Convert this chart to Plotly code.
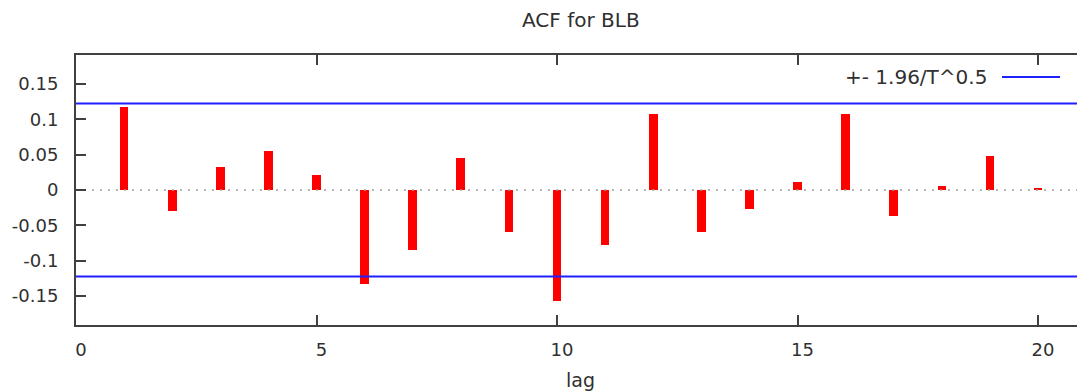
import plotly.graph_objects as go

# Sample autocorrelations of BLB by lag
lags = list(range(1, 21))
acf = [0.1175, -0.029, 0.032, 0.0546, 0.0215, -0.133, -0.0846, 0.0446, -0.0597, -0.157,
       -0.0772, 0.1076, -0.0597, -0.027, 0.0116, 0.1076, -0.0366, 0.005, 0.0475, 0.0027]
band = 0.1225  # 1.96 / sqrt(T)

x_ticks = [0, 5, 10, 15, 20]
y_ticks = [-0.15, -0.1, -0.05, 0, 0.05, 0.1, 0.15]
y_tick_text = ["-0.15", "-0.1", "-0.05", "0", "0.05", "0.1", "0.15"]

W, H = 1077, 391
ML, MR, MT, MB = 76, 0, 55, 66
XMAX = 20.81

FONT = "DejaVu Sans"
TXT = "#303030"
AX = "#404040"

fig = go.Figure()

# dotted zero line
fig.add_trace(go.Scatter(
    x=[0, XMAX], y=[0, 0], mode="lines",
    line=dict(color="#a0a0a0", width=1.5, dash="2px,6px"),
    showlegend=False, hoverinfo="skip",
))

fig.add_trace(go.Bar(
    x=lags, y=acf, width=0.18,
    marker=dict(color="#ff0000", line=dict(width=0)),
    showlegend=False, hoverinfo="x+y",
))

# confidence bands
for s in (1, -1):
    fig.add_trace(go.Scatter(
        x=[0, XMAX], y=[s * band, s * band], mode="lines",
        line=dict(color="#1f1fff", width=2), showlegend=False, hoverinfo="skip",
    ))

pw = W - ML - MR
ph = H - MT - MB


def px_x(p):
    return (p - ML) / pw


def px_y(p):
    return (H - MB - p) / ph


# legend key, drawn by hand so the sample sits to the right of the text
fig.add_annotation(
    x=px_x(989), y=px_y(77), xref="paper", yref="paper",
    text="+- 1.96/T^0.5", showarrow=False, xanchor="right", yanchor="middle",
    font=dict(family=FONT, size=20, color=TXT),
)
fig.add_shape(
    type="line", xref="paper", yref="paper",
    x0=px_x(1002), x1=px_x(1060), y0=px_y(77), y1=px_y(77),
    line=dict(color="#1f1fff", width=2),
)

fig.add_annotation(
    x=px_x(581), y=px_y(20), xref="paper", yref="paper",
    text="ACF for BLB", showarrow=False, xanchor="center", yanchor="middle",
    font=dict(family=FONT, size=20, color=TXT),
)
fig.add_annotation(
    x=px_x(580), y=px_y(380), xref="paper", yref="paper",
    text="lag", showarrow=False, xanchor="center", yanchor="middle",
    font=dict(family=FONT, size=19, color=TXT),
)

fig.update_layout(
    width=W, height=H,
    margin=dict(l=ML, r=MR, t=MT, b=MB, pad=0),
    paper_bgcolor="white", plot_bgcolor="white",
    font=dict(family=FONT, size=18, color=TXT),
    bargap=0,
)
fig.update_xaxes(
    range=[0, XMAX], tickvals=x_ticks, ticktext=[str(v) for v in x_ticks],
    showgrid=False, zeroline=False,
    showline=True, linecolor=AX, linewidth=2, mirror="ticks",
    ticks="inside", ticklen=10, tickcolor=AX, tickwidth=1.5,
    ticklabelstandoff=7, ticklabelshift=5,
)
fig.update_yaxes(
    range=[-0.191, 0.191], tickvals=y_ticks, ticktext=y_tick_text,
    showgrid=False, zeroline=False,
    showline=True, linecolor=AX, linewidth=2, mirror=False,
    ticks="inside", ticklen=10, tickcolor=AX, tickwidth=1.5,
    ticklabelstandoff=12,
)

fig.write_html("out.html")
